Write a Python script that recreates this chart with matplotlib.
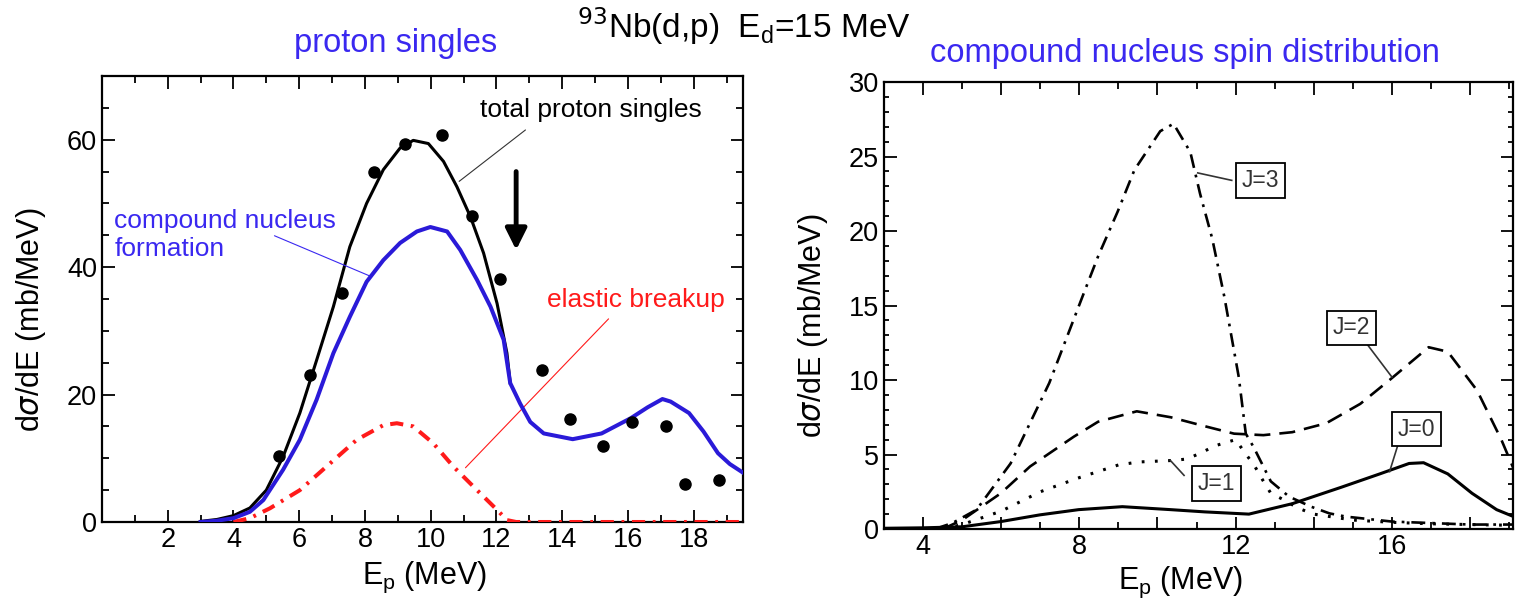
import numpy as np
import matplotlib
matplotlib.use("Agg")
import matplotlib.pyplot as plt
from matplotlib.ticker import MultipleLocator, FuncFormatter

plt.rcParams['font.family'] = ['Liberation Sans', 'DejaVu Sans']
plt.rcParams['lines.scale_dashes'] = False

# -------------------------------------------------
# Left panel data: proton singles
# -------------------------------------------------
exp_E = [5.39, 6.33, 7.29, 8.28, 9.22, 10.34, 11.25, 12.1, 13.38, 14.24,
         15.23, 16.11, 17.15, 17.74, 18.77]
exp_sig = [10.4, 23.0, 35.9, 55.0, 59.3, 60.8, 48.0, 38.1, 23.9, 16.2,
           12.0, 15.65, 15.1, 5.9, 6.6]

total_E = [3.0, 3.5, 4.0, 4.5, 5.0, 5.51, 6.02, 6.53, 7.04, 7.54, 8.05, 8.56,
           9.07, 9.47, 9.93, 10.39, 10.8, 11.21, 11.61, 12.02, 12.32, 12.42]
total_sig = [0.1, 0.4, 1.0, 2.2, 5.0, 10.25, 17.1, 25.4, 33.8, 43.2, 50.0, 55.3,
             58.7, 59.9, 59.4, 56.6, 52.6, 47.9, 42.2, 34.3, 26.5, 21.8]

cn_E = [3.0, 3.5, 4.0, 4.5, 4.91, 5.51, 6.02, 6.53, 7.04, 7.54, 8.05, 8.56,
        9.07, 9.58, 9.99, 10.5, 10.9, 11.41, 11.82, 12.22, 12.42, 12.72, 13.03,
        13.44, 14.32, 15.2, 16.09, 16.6, 17.05, 17.3, 17.86, 18.3, 18.74, 19.1, 19.5]
cn_sig = [0.0, 0.2, 0.6, 1.6, 3.45, 8.2, 12.9, 19.2, 26.5, 32.2, 37.7, 41.1,
          43.8, 45.6, 46.3, 45.6, 42.7, 38.0, 33.8, 28.6, 21.8, 18.6, 15.7,
          13.9, 13.0, 13.9, 16.3, 18.0, 19.3, 18.9, 17.1, 14.2, 10.8, 9.1, 7.75]

eb_E = [4.0, 4.5, 5.11, 6.02, 6.94, 7.75, 8.56, 8.97, 9.47, 10.08, 10.69,
        11.41, 12.02, 12.32, 12.6, 14.0, 16.0, 18.0, 19.5]
eb_sig = [0.0, 0.6, 2.15, 5.0, 9.2, 12.9, 15.2, 15.5, 15.0, 12.35, 8.7,
          5.0, 1.9, 0.3, 0.0, 0.0, 0.0, 0.0, 0.0]

# -------------------------------------------------
# Right panel data: compound nucleus spin distribution
# -------------------------------------------------
j0_E = [3.0, 4.0, 5.0, 5.99, 6.99, 7.98, 9.1, 10.34, 11.21, 12.34, 13.45,
        14.7, 15.69, 16.44, 16.81, 17.43, 18.05, 18.68, 19.24]
j0_sig = [0.05, 0.08, 0.15, 0.5, 0.95, 1.3, 1.5, 1.3, 1.15, 1.0, 1.7,
          2.8, 3.7, 4.4, 4.45, 3.7, 2.4, 1.3, 0.7]

j1_E = [4.5, 5.0, 6.0, 7.0, 8.0, 9.0, 9.52, 10.38, 10.76, 11.1, 11.49, 12.0,
        12.24, 12.47, 12.69, 12.9, 13.24, 13.6, 14.0, 15.0, 16.0, 17.0, 18.0, 19.1]
j1_sig = [0.0, 0.3, 1.2, 2.5, 3.45, 4.3, 4.5, 4.6, 4.7, 5.1, 5.6, 6.0,
          5.1, 4.3, 3.3, 2.4, 1.95, 1.4, 1.0, 0.6, 0.45, 0.35, 0.3, 0.25]

j2_E = [4.5, 5.0, 5.99, 6.74, 7.86, 8.48, 9.47, 10.34, 11.21, 11.96, 12.71,
        13.45, 14.32, 15.19, 15.94, 16.94, 17.43, 18.18, 18.8, 19.17]
j2_sig = [0.0, 0.6, 2.4, 4.2, 6.2, 7.2, 7.9, 7.5, 6.9, 6.4, 6.3,
          6.5, 7.1, 8.4, 10.0, 12.2, 11.9, 9.3, 6.0, 3.7]

j3_E = [4.3, 4.75, 5.37, 6.24, 7.23, 8.08, 8.48, 8.98, 9.41, 10.07, 10.41,
        10.84, 11.09, 11.4, 11.71, 12.08, 12.26, 12.46, 12.9, 13.37, 13.93,
        14.4, 14.83, 16.0, 17.0, 18.0, 19.1]
j3_sig = [0.0, 0.4, 1.3, 4.4, 9.8, 15.6, 18.3, 21.3, 24.1, 26.7, 27.2,
          25.3, 22.5, 19.5, 15.6, 10.2, 6.4, 5.5, 3.2, 2.17, 1.5,
          1.05, 0.83, 0.5, 0.4, 0.3, 0.3]

blue_line = '#2a1ad8'
blue_text = '#3a28f0'
red = '#ff1a1a'

fig = plt.figure(figsize=(15.15, 6.0), dpi=100)

# -------------------------------------------------
# Left panel
# -------------------------------------------------
ax1 = fig.add_axes([0.0673, 0.13, 0.4231, 0.7433])
ax1.plot(total_E, total_sig, color='black', lw=2.2, zorder=3)
ax1.plot(cn_E, cn_sig, color=blue_line, lw=2.9, zorder=4)
ax1.plot(eb_E, eb_sig, color=red, lw=2.9, linestyle=(0, (9.5, 5.5, 2, 5.5)), zorder=3)
ax1.plot(exp_E, exp_sig, 'o', color='black', ms=8, zorder=5)

ax1.set_xlim(0, 19.5)
ax1.set_ylim(0, 70)
ax1.xaxis.set_major_locator(MultipleLocator(2))
ax1.xaxis.set_minor_locator(MultipleLocator(1))
ax1.yaxis.set_major_locator(MultipleLocator(20))
ax1.yaxis.set_minor_locator(MultipleLocator(5))
ax1.xaxis.set_major_formatter(FuncFormatter(lambda v, p: '' if v == 0 else f'{v:.0f}'))

ax1.annotate('', xy=(10.8, 53.2), xytext=(12.95, 61.8),
             arrowprops=dict(arrowstyle='-', color='#333333', lw=0.8))
ax1.text(11.5, 64.6, 'total proton singles', fontsize=19, va='center', ha='left')
ax1.annotate('', xy=(8.2, 38.5), xytext=(5.17, 45.1),
             arrowprops=dict(arrowstyle='-', color=blue_text, lw=0.8))
ax1.text(0.38, 45.0, 'compound nucleus\nformation', fontsize=19, color=blue_text,
         va='center', ha='left', linespacing=1.2)
ax1.annotate('', xy=(11.0, 8.2), xytext=(15.47, 32.2),
             arrowprops=dict(arrowstyle='-', color=red, lw=0.8))
ax1.text(13.55, 34.8, 'elastic breakup', fontsize=19, color=red, va='center', ha='left')
ax1.annotate('', xy=(12.6, 42.7), xytext=(12.6, 55.0),
             arrowprops=dict(arrowstyle='-|>', color='black', lw=3.5,
                             mutation_scale=32, shrinkA=0, shrinkB=0))

# -------------------------------------------------
# Right panel
# -------------------------------------------------
ax2 = fig.add_axes([0.5835, 0.1183, 0.4152, 0.745])
lw_r = 1.9
ax2.plot(j0_E, j0_sig, color='black', lw=lw_r + 0.3)
ax2.plot(j1_E, j1_sig, color='black', lw=lw_r + 0.3, linestyle=(0, (2, 7.5)))
ax2.plot(j2_E, j2_sig, color='black', lw=lw_r, linestyle=(0, (11.5, 6.5)))
ax2.plot(j3_E, j3_sig, color='black', lw=lw_r, linestyle=(0, (10, 5, 2, 5)))

ax2.set_xlim(3, 19.1)
ax2.set_ylim(0, 30)
ax2.xaxis.set_major_locator(MultipleLocator(2))
ax2.xaxis.set_minor_locator(MultipleLocator(1))
ax2.yaxis.set_major_locator(MultipleLocator(5))
ax2.yaxis.set_minor_locator(MultipleLocator(1))
ax2.xaxis.set_major_formatter(FuncFormatter(lambda v, p: f'{v:.0f}' if v % 4 == 0 else ''))

box = dict(boxstyle='square,pad=0.25', fc='white', ec='black', lw=1.3)
labels = [('J=3', 12.64, 23.4, (11.9, 23.4), (11.03, 23.9)),
          ('J=2', 14.97, 13.5, (15.38, 12.35), (16.0, 10.2)),
          ('J=0', 16.62, 6.7, (16.16, 5.7), (15.94, 3.85)),
          ('J=1', 11.5, 3.07, (10.68, 3.6), (10.33, 4.6))]
for txt, lx, ly, p0, p1 in labels:
    ax2.plot([p0[0], p1[0]], [p0[1], p1[1]], color='#333333', lw=1.2)
    ax2.text(lx, ly, txt, fontsize=16.5, color='#333333', ha='center', va='center', bbox=box)

for ax in (ax1, ax2):
    ax.tick_params(which='both', direction='in', top=True, right=True,
                   labelsize=19.5, width=1.3)
    ax.tick_params(which='major', length=9)
    ax.tick_params(which='minor', length=5)
    for s in ax.spines.values():
        s.set_linewidth(1.6)
ax2.tick_params(axis='y', which='minor', length=3.5)

# -------------------------------------------------
# Titles and axis labels
# -------------------------------------------------
fig.text(0.4908, 0.937, r'$^{93}$Nb(d,p)  E$_{\mathregular{d}}$=15 MeV', fontsize=24,
         ha='center', va='baseline')
fig.text(0.2614, 0.914, 'proton singles', fontsize=23.5, color=blue_text,
         ha='center', va='baseline')
fig.text(0.782, 0.897, 'compound nucleus spin distribution', fontsize=23.5,
         color=blue_text, ha='center', va='baseline')

fig.text(0.2805, 1 - 584 / 600, r'E$_{\mathregular{p}}$ (MeV)', fontsize=22,
         ha='center', va='baseline')
fig.text(0.7795, 1 - 589 / 600, r'E$_{\mathregular{p}}$ (MeV)', fontsize=22,
         ha='center', va='baseline')
fig.text(0.0205, 0.468, r'd$\sigma$/dE (mb/MeV)', fontsize=22, rotation=90,
         ha='center', va='center')
fig.text(0.5366, 0.458, r'd$\sigma$/dE (mb/MeV)', fontsize=22, rotation=90,
         ha='center', va='center')

fig.savefig('out.png', dpi=100)
